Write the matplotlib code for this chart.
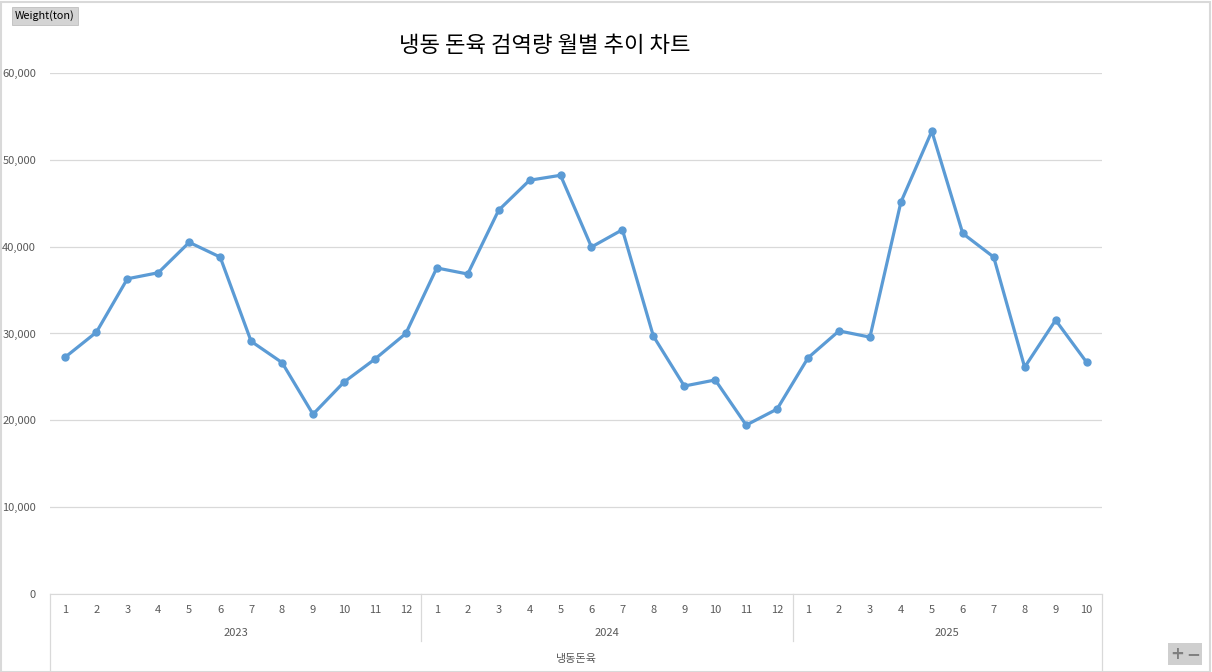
import matplotlib.pyplot as plt
import matplotlib.transforms as mtransforms
from matplotlib.patches import Rectangle

plt.rcParams['font.family'] = ['Noto Sans CJK KR', 'DejaVu Sans']

years = ['2023', '2024', '2025']
months_2023 = [1, 2, 3, 4, 5, 6, 7, 8, 9, 10, 11, 12]
months_2024 = [1, 2, 3, 4, 5, 6, 7, 8, 9, 10, 11, 12]
months_2025 = [1, 2, 3, 4, 5, 6, 7, 8, 9, 10]
values_2023 = [27300, 30150, 36300, 37000, 40500, 38800, 29100, 26650, 20700, 24400, 27050, 30000]
values_2024 = [37550, 36850, 44200, 47650, 48220, 39960, 41950, 29700, 23950, 24650, 19450, 21300]
values_2025 = [27200, 30300, 29580, 45120, 53300, 41520, 38800, 26120, 31540, 26700]

title = '냉동 돈육 검역량 월별 추이 차트'
series_name = '냉동돈육'
y_button = 'Weight(ton)'

months = [months_2023, months_2024, months_2025]
values = values_2023 + values_2024 + values_2025
x = list(range(len(values)))

W, H = 1212, 672
fig = plt.figure(figsize=(W / 100, H / 100), dpi=100)
ax = fig.add_axes([50 / W, (H - 594) / H, 1052 / W, 521 / H])

ax.plot(x, values, color='#5B9BD5', linewidth=2.3, marker='o', markersize=5,
        solid_joinstyle='round', zorder=3)

ax.set_xlim(-0.5, len(values) - 0.5)
ax.set_ylim(0, 60000)
ax.set_yticks(range(0, 60001, 10000))
ax.set_yticklabels([f'{v:,}' for v in range(0, 60001, 10000)])
ax.yaxis.grid(True, color='#D9D9D9', linewidth=0.9)
ax.set_axisbelow(True)
ax.tick_params(axis='y', length=0, pad=10, labelsize=8, labelcolor='#595959')
ax.set_xticks([])
for s in ['top', 'right', 'left']:
    ax.spines[s].set_visible(False)
ax.spines['bottom'].set_color('#D9D9D9')

# category labels below the axis
trans = mtransforms.blended_transform_factory(ax.transData, ax.transAxes)
px = 1 / 521
pos = 0
for yr, ms in zip(years, months):
    for m in ms:
        ax.text(pos, -16 * px, str(m), transform=trans, ha='center', va='center',
                fontsize=8, color='#595959')
        pos += 1
    start = pos - len(ms)
    ax.text((start + pos - 1) / 2, -39 * px, yr, transform=trans, ha='center',
            va='center', fontsize=8, color='#595959')
    if pos < len(values):
        ax.plot([pos - 0.5, pos - 0.5], [0, -47 * px], transform=trans,
                color='#D9D9D9', linewidth=0.9, clip_on=False)
for xe in [-0.5, len(values) - 0.5]:
    ax.plot([xe, xe], [0, -78 * px], transform=trans, color='#D9D9D9',
            linewidth=0.9, clip_on=False)
ax.text(0.5, -65 * px, series_name, transform=ax.transAxes, ha='center',
        va='center', fontsize=8, color='#595959')

fig.text(545 / W, 1 - 46 / H, title, ha='center', va='center', fontsize=16,
         color='#000000')

# field button in top-left corner
fig.text(45 / W, 1 - 16 / H, y_button, ha='center', va='center', fontsize=7.8,
         color='#000000',
         bbox=dict(boxstyle='square,pad=0.3', facecolor='#D4D4D4',
                   edgecolor='#BFBFBF', linewidth=0.6))

# zoom buttons bottom right
for bx, sym in [(1177, '+'), (1193, '−')]:
    fig.text(bx / W, 1 - 654 / H, sym, ha='center', va='center', fontsize=12,
             fontweight='bold', color='#7F7F7F', family='DejaVu Sans',
             bbox=dict(boxstyle='square,pad=0.12', facecolor='#CFCFCF',
                       edgecolor='none'))

fig.patches.append(Rectangle((0.5 / W, 0.5 / H), 1 - 2.5 / W, 1 - 2 / H,
                             transform=fig.transFigure, fill=False,
                             edgecolor='#D9D9D9', linewidth=1.5))

fig.savefig('out.png', dpi=100)
